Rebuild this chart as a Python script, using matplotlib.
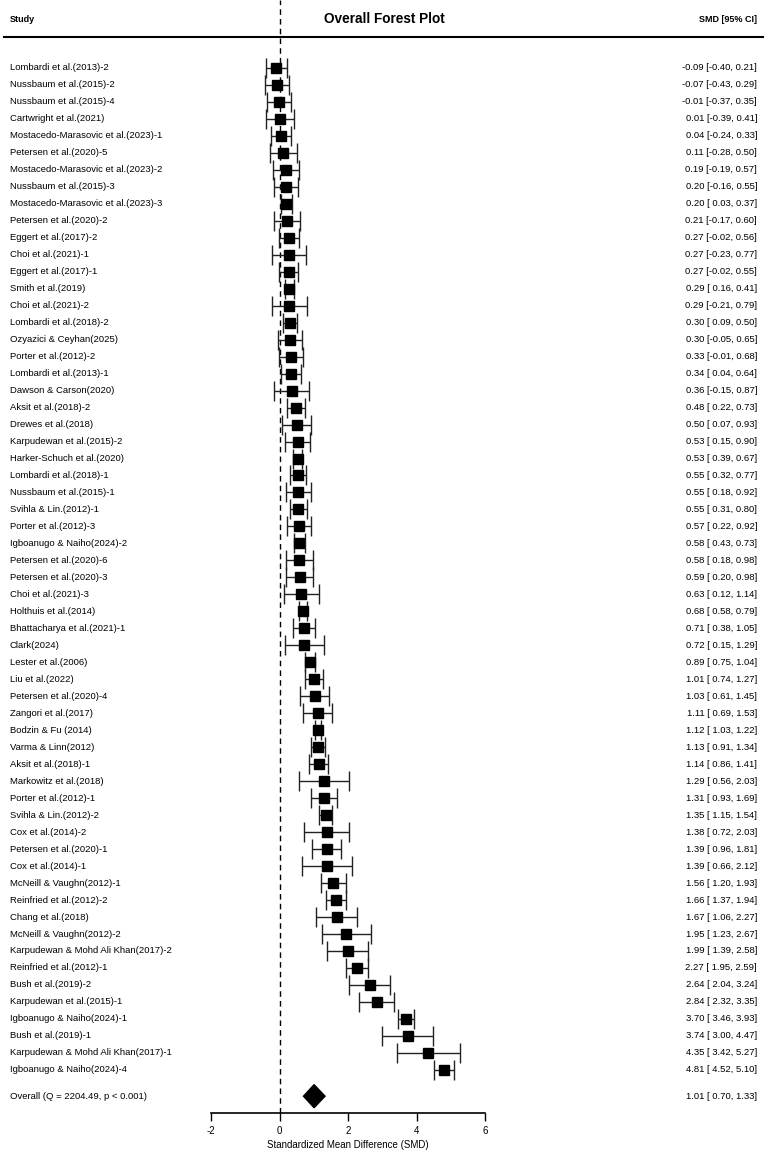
import matplotlib
matplotlib.use("Agg")
import matplotlib.pyplot as plt
import matplotlib.transforms as mtransforms
from matplotlib.lines import Line2D

plt.rcParams['font.family'] = ['Liberation Sans', 'DejaVu Sans']
plt.rcParams['axes.unicode_minus'] = False

studies = [
    "Lombardi et al.(2013)-2", "Nussbaum et al.(2015)-2", "Nussbaum et al.(2015)-4",
    "Cartwright et al.(2021)", "Mostacedo-Marasovic et al.(2023)-1", "Petersen et al.(2020)-5",
    "Mostacedo-Marasovic et al.(2023)-2", "Nussbaum et al.(2015)-3", "Mostacedo-Marasovic et al.(2023)-3",
    "Petersen et al.(2020)-2", "Eggert et al.(2017)-2", "Choi et al.(2021)-1",
    "Eggert et al.(2017)-1", "Smith et al.(2019)", "Choi et al.(2021)-2",
    "Lombardi et al.(2018)-2", "Ozyazici & Ceyhan(2025)", "Porter et al.(2012)-2",
    "Lombardi et al.(2013)-1", "Dawson & Carson(2020)", "Aksit et al.(2018)-2",
    "Drewes et al.(2018)", "Karpudewan et al.(2015)-2", "Harker-Schuch et al.(2020)",
    "Lombardi et al.(2018)-1", "Nussbaum et al.(2015)-1", "Svihla & Lin.(2012)-1",
    "Porter et al.(2012)-3", "Igboanugo & Naiho(2024)-2", "Petersen et al.(2020)-6",
    "Petersen et al.(2020)-3", "Choi et al.(2021)-3", "Holthuis et al.(2014)",
    "Bhattacharya et al.(2021)-1", "Clark(2024)", "Lester et al.(2006)",
    "Liu et al.(2022)", "Petersen et al.(2020)-4", "Zangori et al.(2017)",
    "Bodzin & Fu (2014)", "Varma & Linn(2012)", "Aksit et al.(2018)-1",
    "Markowitz et al.(2018)", "Porter et al.(2012)-1", "Svihla & Lin.(2012)-2",
    "Cox et al.(2014)-2", "Petersen et al.(2020)-1", "Cox et al.(2014)-1",
    "McNeill & Vaughn(2012)-1", "Reinfried et al.(2012)-2", "Chang et al.(2018)",
    "McNeill & Vaughn(2012)-2", "Karpudewan & Mohd Ali Khan(2017)-2", "Reinfried et al.(2012)-1",
    "Bush et al.(2019)-2", "Karpudewan et al.(2015)-1", "Igboanugo & Naiho(2024)-1",
    "Bush et al.(2019)-1", "Karpudewan & Mohd Ali Khan(2017)-1", "Igboanugo & Naiho(2024)-4",
]
smd = [-0.09, -0.07, -0.01, 0.01, 0.04, 0.11, 0.19, 0.20, 0.20, 0.21,
       0.27, 0.27, 0.27, 0.29, 0.29, 0.30, 0.30, 0.33, 0.34, 0.36,
       0.48, 0.50, 0.53, 0.53, 0.55, 0.55, 0.55, 0.57, 0.58, 0.58,
       0.59, 0.63, 0.68, 0.71, 0.72, 0.89, 1.01, 1.03, 1.11, 1.12,
       1.13, 1.14, 1.29, 1.31, 1.35, 1.38, 1.39, 1.39, 1.56, 1.66,
       1.67, 1.95, 1.99, 2.27, 2.64, 2.84, 3.70, 3.74, 4.35, 4.81]
ci_low = [-0.40, -0.43, -0.37, -0.39, -0.24, -0.28, -0.19, -0.16, 0.03, -0.17,
          -0.02, -0.23, -0.02, 0.16, -0.21, 0.09, -0.05, -0.01, 0.04, -0.15,
          0.22, 0.07, 0.15, 0.39, 0.32, 0.18, 0.31, 0.22, 0.43, 0.18,
          0.20, 0.12, 0.58, 0.38, 0.15, 0.75, 0.74, 0.61, 0.69, 1.03,
          0.91, 0.86, 0.56, 0.93, 1.15, 0.72, 0.96, 0.66, 1.20, 1.37,
          1.06, 1.23, 1.39, 1.95, 2.04, 2.32, 3.46, 3.00, 3.42, 4.52]
ci_high = [0.21, 0.29, 0.35, 0.41, 0.33, 0.50, 0.57, 0.55, 0.37, 0.60,
           0.56, 0.77, 0.55, 0.41, 0.79, 0.50, 0.65, 0.68, 0.64, 0.87,
           0.73, 0.93, 0.90, 0.67, 0.77, 0.92, 0.80, 0.92, 0.73, 0.98,
           0.98, 1.14, 0.79, 1.05, 1.29, 1.04, 1.27, 1.45, 1.53, 1.22,
           1.34, 1.41, 2.03, 1.69, 1.54, 2.03, 1.81, 2.12, 1.93, 1.94,
           2.27, 2.67, 2.58, 2.59, 3.24, 3.35, 3.93, 4.47, 5.27, 5.10]

overall_label = "Overall (Q = 2204.49, p < 0.001)"
overall_est, overall_low, overall_high = 1.01, 0.70, 1.33
xticks = [-2, 0, 2, 4, 6]

W, H = 767, 1157
fig = plt.figure(figsize=(W / 100, H / 100), dpi=100)
ax = fig.add_axes([211 / W, 1 - 1113 / H, (485 - 211) / W, 1113 / H])

rows = list(range(len(studies)))
overall_y = 60.55

# study estimates with CI
xerr = [[e - lo for e, lo in zip(smd, ci_low)], [hi - e for e, hi in zip(smd, ci_high)]]
ax.errorbar(smd, rows, xerr=xerr, fmt='s', color='black', ecolor='#222222',
            elinewidth=1.0, capsize=7, capthick=1.0, markersize=6.5, zorder=3)

# overall diamond
dh = 0.68
ax.fill([overall_low, overall_est, overall_high, overall_est],
        [overall_y, overall_y - dh, overall_y, overall_y + dh], color='black', zorder=3)

ax.axvline(0, color='black', linestyle=(0, (4, 3)), lw=1.0, zorder=1)

ax.set_xlim(-2, 6)
ax.set_ylim(61.54, -4.0)
ax.set_yticks([])
ax.set_xticks(xticks)
ax.tick_params(axis='x', direction='out', length=6, width=1.0, labelsize=7, pad=3)
for s in ['top', 'left', 'right']:
    ax.spines[s].set_visible(False)
ax.spines['bottom'].set_linewidth(1.2)
ax.set_xlabel("Standardized Mean Difference (SMD)", fontsize=7, labelpad=3)
ax.patch.set_visible(False)

# text columns
trans = mtransforms.blended_transform_factory(fig.transFigure, ax.transData)
for i, name in enumerate(studies):
    ax.text(10 / W, i, name, transform=trans, ha='left', va='center', fontsize=6.8)
    ax.text(757 / W, i, f"{smd[i]:.2f} [{ci_low[i]:5.2f}, {ci_high[i]:.2f}]",
            transform=trans, ha='right', va='center', fontsize=6.8)
ax.text(10 / W, overall_y, overall_label, transform=trans, ha='left', va='center', fontsize=6.8)
ax.text(757 / W, overall_y, f"{overall_est:.2f} [{overall_low:5.2f}, {overall_high:.2f}]",
        transform=trans, ha='right', va='center', fontsize=6.8)

# header
fig.text(10 / W, 1 - 19 / H, "Study", ha='left', va='center', fontsize=6.5, fontweight='bold')
fig.text(757 / W, 1 - 19 / H, "SMD [95% CI]", ha='right', va='center', fontsize=6.5, fontweight='bold')
fig.text(384 / W, 1 - 19 / H, "Overall Forest Plot", ha='center', va='center', fontsize=9.8, fontweight='bold')
fig.add_artist(Line2D([0.005, 0.995], [1 - 37 / H, 1 - 37 / H], transform=fig.transFigure,
                      color='black', lw=1.5))

fig.savefig("out.png", dpi=100, facecolor='white')
